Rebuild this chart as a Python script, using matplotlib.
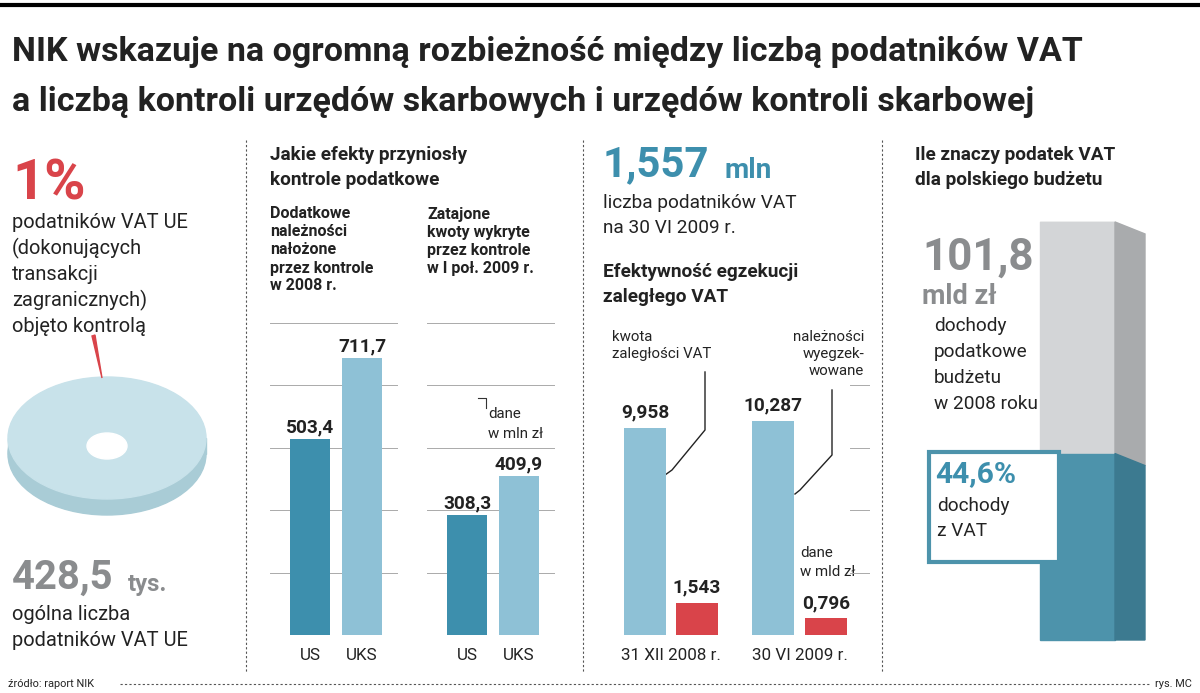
import matplotlib
matplotlib.use("Agg")
import matplotlib.pyplot as plt
from matplotlib.patches import Ellipse, Polygon, Rectangle

# ---- data ----
p2_cats = ["US", "UKS"]
p2a_vals = [503.4, 711.7]
p2b_vals = [308.3, 409.9]
p3_cats = ["31 XII 2008 r.", "30 VI 2009 r."]
p3_arrears = [9.958, 10.287]
p3_collected = [1.543, 0.796]
eu_share_pct = 1
eu_total = "428,5"
vat_payers = "1,557"
budget_total = 101.8
vat_share_pct = 44.6

FONT = "Roboto"
plt.rcParams["font.family"] = FONT

W, H = 1200, 693
fig = plt.figure(figsize=(12, 6.93), dpi=100)
ax = fig.add_axes([0, 0, 1, 1])
ax.set_xlim(0, W); ax.set_ylim(H, 0); ax.axis("off")

DARK = "#3d8fad"; LIGHT = "#8ec1d6"; RED = "#d9444a"; GRAY = "#8a8c8e"; TXT = "#222222"

def pt(px):
    return px * 0.72

ax.plot([0, W], [5, 5], color="black", lw=3)
ax.text(12, 52, "NIK wskazuje na ogromną rozbieżność między liczbą podatników VAT",
        fontsize=pt(34), fontweight="bold", va="center", color=TXT)
ax.text(12, 102, "a liczbą kontroli urzędów skarbowych i urzędów kontroli skarbowej",
        fontsize=pt(34), fontweight="bold", va="center", color=TXT)
for x in (246, 583, 882):
    ax.plot([x, x], [140, 672], color="#555555", lw=0.8, ls=(0, (2, 2)))
ax.plot([120, 1150], [684, 684], color="#555555", lw=0.8, ls=(0, (2, 2)))
ax.text(8, 684, "źródło: raport NIK", fontsize=pt(11), va="center", color=TXT)
ax.text(1155, 684, "rys. MC", fontsize=pt(11), va="center", color=TXT)

# ---- panel 1 ----
ax.text(12, 185, f"{eu_share_pct}%", fontsize=pt(56), fontweight="bold", color=RED, va="center")
for i, s in enumerate(["podatników VAT UE", "(dokonujących", "transakcji", "zagranicznych)", "objęto kontrolą"]):
    ax.text(12, 222 + i * 26, s, fontsize=pt(20), va="center", color=TXT)
cx, cy, ew, eh = 107, 438, 198, 122
ax.add_patch(Ellipse((cx, cy + 16), ew, eh, color="#a9ccd6", zorder=2))
ax.add_patch(Rectangle((cx - ew / 2, cy), ew, 16, color="#a9ccd6", zorder=2))
ax.add_patch(Ellipse((cx, cy), ew, eh, color="#c8e2ea", zorder=3))
ax.add_patch(Polygon([[102, 378], [95, 335], [92, 336]], closed=True, color=RED, zorder=4))
ax.add_patch(Ellipse((cx, cy + 8), 40, 26, color="white", zorder=5))
ax.text(12, 578, eu_total, fontsize=pt(40), fontweight="bold", color=GRAY, va="center")
ax.text(128, 585, "tys.", fontsize=pt(24), fontweight="bold", color=GRAY, va="center")
ax.text(12, 614, "ogólna liczba", fontsize=pt(20), va="center", color=TXT)
ax.text(12, 640, "podatników VAT UE", fontsize=pt(20), va="center", color=TXT)

# ---- panel 2 ----
ax.text(270, 155, "Jakie efekty przyniosły", fontsize=pt(19), fontweight="bold", va="center", color=TXT)
ax.text(270, 180, "kontrole podatkowe", fontsize=pt(19), fontweight="bold", va="center", color=TXT)
for i, s in enumerate(["Dodatkowe", "należności", "nałożone", "przez kontrole", "w 2008 r."]):
    ax.text(270, 214 + i * 18, s, fontsize=pt(16), fontweight="bold", va="center", color=TXT)
for i, s in enumerate(["Zatajone", "kwoty wykryte", "przez kontrole", "w I poł. 2009 r."]):
    ax.text(427, 214 + i * 18, s, fontsize=pt(16), fontweight="bold", va="center", color=TXT)

base = 635
def px_axes(x0, x1, y0, y1):
    return fig.add_axes([x0 / W, 1 - y1 / H, (x1 - x0) / W, (y1 - y0) / H])

scale2 = 0.389
for x0, vals in ((270, p2a_vals), (427, p2b_vals)):
    top = 322
    a = px_axes(x0, x0 + 128, top, base)
    a.set_xlim(0, 128); a.set_ylim(0, (base - top) / scale2); a.axis("off")
    for g in range(6):
        a.axhline(g * 62.5 / scale2, color="#aaaaaa", lw=0.7)
    a.bar([40, 92], vals, width=40, color=[DARK, LIGHT], zorder=3)
    for xx, v in zip([40, 92], vals):
        a.text(xx, v + 6, f"{v:.1f}".replace(".", ","), ha="center", va="bottom",
               fontsize=pt(19), fontweight="bold", color=TXT)
    for xx, c in zip([40, 92], p2_cats):
        ax.text(x0 + xx, 656, c, ha="center", va="center", fontsize=pt(17), color=TXT)
ax.text(488, 414, "dane", fontsize=pt(15), va="center", color=TXT)
ax.text(488, 434, "w mln zł", fontsize=pt(15), va="center", color=TXT)
ax.plot([478, 486, 486], [398, 398, 408], color="#333", lw=0.8)

# ---- panel 3 ----
ax.text(603, 165, vat_payers, fontsize=pt(42), fontweight="bold", color=DARK, va="center")
ax.text(724, 170, "mln", fontsize=pt(28), fontweight="bold", color=DARK, va="center")
ax.text(603, 203, "liczba podatników VAT", fontsize=pt(19), va="center", color=TXT)
ax.text(603, 228, "na 30 VI 2009 r.", fontsize=pt(19), va="center", color=TXT)
ax.text(603, 272, "Efektywność egzekucji", fontsize=pt(19), fontweight="bold", va="center", color=TXT)
ax.text(603, 297, "zaległego VAT", fontsize=pt(19), fontweight="bold", va="center", color=TXT)
a = px_axes(603, 870, 322, base)
s3 = 20.8
a.set_xlim(603, 870); a.set_ylim(0, (base - 322) / s3); a.axis("off")
a.axhline(0, color="#999999", lw=0.7)
for g in (1, 2, 3, 4):
    a.plot([850, 870], [g * 62.5 / s3] * 2, color="#aaaaaa", lw=0.7)
xs_b = [645, 773]; xs_r = [697, 826]
a.bar(xs_b, p3_arrears, width=42, color=LIGHT)
a.bar(xs_r, p3_collected, width=42, color=RED)
for xx, v in zip(xs_b + xs_r, p3_arrears + p3_collected):
    a.text(xx, v + 0.3, f"{v:.3f}".replace(".", ","), ha="center", va="bottom",
           fontsize=pt(19), fontweight="bold", color=TXT)
for xx, c in zip([671, 800], p3_cats):
    ax.text(xx, 656, c, ha="center", va="center", fontsize=pt(17), color=TXT)
ax.text(612, 337, "kwota", fontsize=pt(15), va="center", color=TXT)
ax.text(612, 354, "zaległości VAT", fontsize=pt(15), va="center", color=TXT)
ax.plot([705, 705, 672, 665], [372, 430, 470, 475], color="#222", lw=1)
for i, s in enumerate(["należności", "wyegzek-", "wowane"]):
    ax.text(864, 337 + i * 17, s, fontsize=pt(15), va="center", ha="right", color=TXT)
ax.plot([832, 832, 800, 795], [390, 455, 490, 494], color="#222", lw=1)
ax.text(800, 553, "dane", fontsize=pt(15), va="center", color=TXT)
ax.text(800, 572, "w mld zł", fontsize=pt(15), va="center", color=TXT)

# ---- panel 4 ----
ax.text(915, 155, "Ile znaczy podatek VAT", fontsize=pt(19), fontweight="bold", va="center", color=TXT)
ax.text(915, 180, "dla polskiego budżetu", fontsize=pt(19), fontweight="bold", va="center", color=TXT)
ctop, cbot = 222, 640
split = cbot - (cbot - ctop) * vat_share_pct / 100
ax.add_patch(Polygon([[1040, ctop], [1115, ctop], [1145, ctop + 12], [1075, ctop + 12]], color="#eeeeee"))
ax.add_patch(Rectangle((1040, ctop), 75, split - ctop, color="#d3d5d7"))
ax.add_patch(Polygon([[1115, ctop], [1145, ctop + 12], [1145, split + 12], [1115, split]], color="#a9abad"))
ax.add_patch(Rectangle((1040, split), 75, cbot - split, color="#4d93ab"))
ax.add_patch(Polygon([[1115, split], [1145, split + 12], [1145, cbot], [1115, cbot]], color="#3c7a90"))
ax.add_patch(Rectangle((929, 452), 130, 110, facecolor="white", edgecolor="#4d93ab", lw=3))
ax.text(922, 258, f"{budget_total:.1f}".replace(".", ","), fontsize=pt(44), fontweight="bold", color=GRAY, va="center")
ax.text(922, 296, "mld zł", fontsize=pt(27), fontweight="bold", color=GRAY, va="center")
for i, s in enumerate(["dochody", "podatkowe", "budżetu", "w 2008 roku"]):
    ax.text(934, 326 + i * 26, s, fontsize=pt(19), va="center", color=TXT)
ax.text(935, 474, f"{vat_share_pct:.1f}%".replace(".", ","), fontsize=pt(30), fontweight="bold", color=DARK, va="center")
ax.text(937, 506, "dochody", fontsize=pt(19), va="center", color=TXT)
ax.text(937, 531, "z VAT", fontsize=pt(19), va="center", color=TXT)

fig.savefig("out.png", dpi=100)
